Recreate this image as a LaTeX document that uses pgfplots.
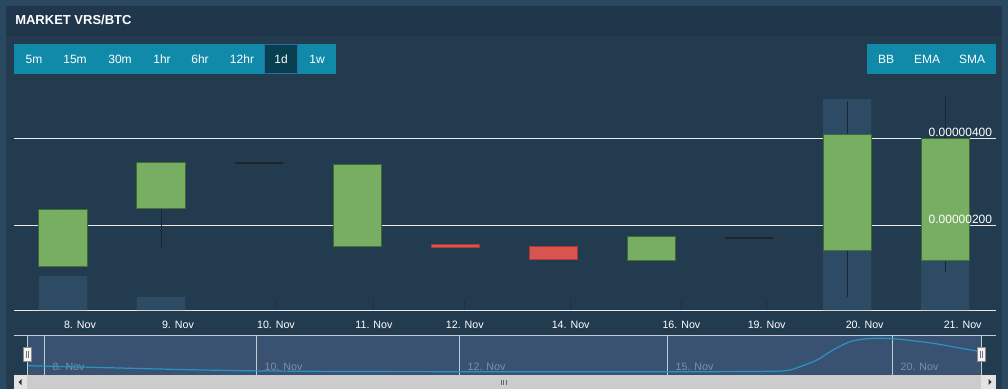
\documentclass[border=0pt]{standalone}
\usepackage{pgfplots}
\pgfplotsset{compat=1.18}
\usepackage{pgfplotstable}
\usepgfplotslibrary{statistics}
\usepackage{fontspec}
\setmainfont{Liberation Sans}

\definecolor{outercol}{HTML}{2B4861}
\definecolor{titlecol}{HTML}{20374B}
\definecolor{panelcol}{HTML}{233B4F}
\definecolor{volcol}{HTML}{2D4B64}
\definecolor{upfill}{HTML}{77AE62}
\definecolor{upborder}{HTML}{3C6B36}
\definecolor{dnfill}{HTML}{D9534F}
\definecolor{dnborder}{HTML}{A53A3A}
\definecolor{wickcol}{HTML}{1B2630}
\definecolor{dojicol}{HTML}{202428}
\definecolor{btncol}{HTML}{118AA9}
\definecolor{selcol}{HTML}{073F50}
\definecolor{selborder}{HTML}{2F6BA8}
\definecolor{navsel}{HTML}{3A5272}
\definecolor{navgrid}{HTML}{C5CCD3}
\definecolor{navlabel}{HTML}{7F8FA2}
\definecolor{navline}{HTML}{2794C2}
\definecolor{axwhite}{HTML}{E8E8E8}
\definecolor{tickdark}{HTML}{2A2E33}

% volume (arbitrary units on the price scale); days without volume omitted
\pgfplotstableread{
x vol
0 0.834
1 0.352
8 4.90
9 2.58
}\volume

\pgfplotsset{
  up/.style={draw=upborder, fill=upfill, line width=0.75pt},
  down/.style={draw=dnborder, fill=dnfill, line width=0.75pt},
  doji/.style={draw=dojicol, line width=1.5pt},
}
% candle: style, position, low, body bottom, body top, high  (price in 1e-6 BTC)
\newcommand{\candle}[6]{%
  \addplot[#1, boxplot prepared={draw direction=y, draw position=#2, lower whisker=#3,
      lower quartile=#4, median=#4, upper quartile=#5, upper whisker=#6,
      box extend=0.49, whisker extend=0}] coordinates {};}

\begin{document}
\begin{tikzpicture}[x=0.75pt,y=-0.75pt]
\useasboundingbox (0,0) rectangle (1008,389);
\fill[outercol] (0,0) rectangle (1008,389);
\fill[titlecol] (6,6) rectangle (1002,36);
\fill[panelcol] (6,36) rectangle (1002,389);
\node[anchor=base west, inner sep=0, text=white, font=\bfseries\fontsize{9.75}{12}\selectfont] at (15,25) {MARKET VRS/BTC};

% period buttons
\fill[btncol] (14,44) rectangle (336,74);
\fill[selcol] (264,44) rectangle (298,74);
\draw[selborder, line width=0.75pt] (264.5,44.5) rectangle (297.5,73.5);
\foreach \t/\xx in {5m/34,15m/75,30m/120,1hr/162,6hr/200,12hr/242,1d/281,1w/317}
  \node[anchor=base, inner sep=0, text=white, font=\fontsize{9}{11}\selectfont] at (\xx,63.5) {\t};
\fill[btncol] (867,44) rectangle (996,74);
\foreach \t/\xx in {BB/886,EMA/927,SMA/972}
  \node[anchor=base, inner sep=0, text=white, font=\fontsize{9}{11}\selectfont] at (\xx,63.5) {\t};

% navigator background
\fill[navsel] (27,335) rectangle (981,375);

\begin{scope}[x=1cm,y=1cm]
\begin{axis}[
  at={(10.5pt,-232.5pt)}, anchor=south west,
  scale only axis, width=736.5pt, height=168.75pt,
  xmin=-0.5, xmax=9.52, ymin=0.0529, ymax=5.2253,
  axis x line*=bottom, axis y line*=left,
  x axis line style={draw=axwhite, line width=0.75pt},
  y axis line style={draw=none},
  xtick={0.173,1.173,2.173,3.173,4.10,5.18,6.31,7.18,8.18,9.18},
  xticklabels={8. Nov,9. Nov,10. Nov,11. Nov,12. Nov,14. Nov,16. Nov,19. Nov,20. Nov,21. Nov},
  tick align=inside, major tick length=7.5pt,
  xtick style={draw=tickdark, line width=0.75pt},
  ytick={2,4}, yticklabels={}, ytick style={draw=none},
  ymajorgrids, grid style={draw=axwhite, line width=0.75pt},
  xticklabel style={text=white, font=\fontsize{8}{10}\selectfont, yshift=-5pt},
  boxplot/every whisker/.style={draw=wickcol, line width=0.75pt},
  boxplot/every median/.style={draw=none},
]
\addplot[ybar, bar width=0.49, fill=volcol, draw=none] table[x=x, y=vol] {\volume};
\candle{up}{0}{1.048}{1.048}{2.368}{2.414}
\candle{up}{1}{1.462}{2.375}{3.448}{3.448}
\candle{doji}{2}{3.432}{3.432}{3.432}{3.432}
\candle{up}{3}{1.524}{1.524}{3.409}{3.409}
\candle{down}{4}{1.501}{1.501}{1.570}{1.570}
\candle{down}{5}{1.225}{1.225}{1.524}{1.524}
\candle{up}{6}{1.202}{1.202}{1.754}{1.754}
\candle{doji}{7}{1.708}{1.708}{1.708}{1.708}
\candle{up}{8}{0.359}{1.416}{4.092}{4.857}
\candle{up}{9}{0.920}{1.202}{4.000}{4.943}
\node[anchor=south east, inner sep=0.75pt, xshift=-2pt, text=white, font=\fontsize{9}{11}\selectfont] at (axis cs:9.52,4) {0.00000400};
\node[anchor=south east, inner sep=0.75pt, xshift=-2pt, text=white, font=\fontsize{9}{11}\selectfont] at (axis cs:9.52,2) {0.00000200};
\end{axis}

\begin{axis}[
  at={(10.5pt,-281.25pt)}, anchor=south west,
  scale only axis, width=736.5pt, height=30pt,
  xmin=14, xmax=996, ymin=0, ymax=40,
  axis line style={draw=none}, tick style={draw=none},
  xtick={44,256,459,667,892},
  xticklabels={8. Nov,10. Nov,12. Nov,15. Nov,20. Nov},
  ytick=\empty,
  xmajorgrids, grid style={draw=navgrid, line width=0.75pt},
  xticklabel style={anchor=south west, text=navlabel, font=\fontsize{8}{10}\selectfont, xshift=3pt, yshift=0pt},
]
\addplot[smooth, navline, line width=0.9pt] coordinates {
(27,9.3) (100,7.5) (180,5.5) (250,4.2) (350,3.5) (500,3.3) (700,3.3) (775,3.8)
(790,5.0) (800,8.3) (817,15) (833,25) (850,33.3) (867,36.3) (883,36.7) (900,35.7)
(933,31.7) (967,25.7) (981,23.3)};
\end{axis}
\end{scope}

% navigator frame and handles
\draw[navgrid, line width=0.75pt] (14,335.3) -- (996,335.3);
\draw[navgrid, line width=0.75pt] (27,335) -- (27,375) (981,335) -- (981,375);
\filldraw[fill=white!95!black, draw=black!45, line width=0.75pt] (23,347.5) rectangle (31.5,361.5);
\draw[black!55, line width=0.6pt] (26,351) -- (26,358) (28.5,351) -- (28.5,358);
\filldraw[fill=white!95!black, draw=black!45, line width=0.75pt] (977,347.5) rectangle (985.5,361.5);
\draw[black!55, line width=0.6pt] (980,351) -- (980,358) (982.5,351) -- (982.5,358);

% scrollbar
\fill[black!20] (14,375) rectangle (996,389);
\fill[black!11] (14,375) rectangle (27,389);
\fill[black!11] (981,375) rectangle (996,389);
\fill[black!80] (18.5,382) -- (21.5,379) -- (21.5,385) -- cycle;
\fill[black!80] (991.5,382) -- (988.5,379) -- (988.5,385) -- cycle;
\draw[black!60, line width=0.6pt] (501,379.5) -- (501,385) (503.5,379.5) -- (503.5,385) (506,379.5) -- (506,385);
\end{tikzpicture}
\end{document}
